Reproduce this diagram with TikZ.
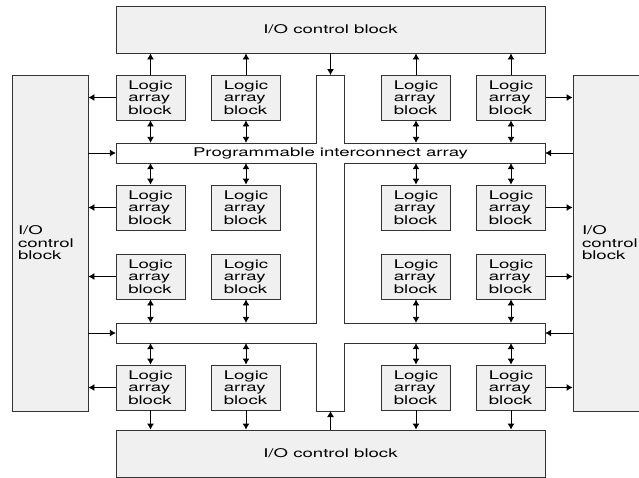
\documentclass[tikz,border=0pt]{standalone}
\usepackage{fontspec}
\setmainfont{TeX Gyre Heros}[FakeStretch=1.55]
\usetikzlibrary{arrows.meta}

\tikzset{
	blk/.style={draw=black!80, fill=black!6, line width=0.9pt, inner sep=0pt,
		font=\fontsize{12}{12.5}\selectfont},
	lab/.style={blk, minimum width=69pt, minimum height=45pt, align=left},
	band/.style={inner sep=0pt, minimum width=429pt, minimum height=20pt,
		font=\fontsize{12}{12.5}\selectfont}
}

\begin{document}
\begin{tikzpicture}[x=1pt, y=-1pt]
		\useasboundingbox (0,0) rectangle (639,477);
		\clip (0,0) rectangle (639,477);
		% I/O control blocks
		\node [blk, minimum width=429pt, minimum height=47pt] (iotop) at (330.5,29.5) {I/O control block};
		\node [blk, minimum width=429pt, minimum height=47pt] (iobot) at (330.5,453.5) {I/O control block};
		\node [blk, minimum width=76pt, minimum height=336pt, text width=64pt, inner xsep=6pt, align=left] (iol) at (50,243) {I/O\\control\\block};
		\node [blk, minimum width=76pt, minimum height=336pt, text width=58pt, inner xsep=9pt, align=left] (ior) at (611,243) {I/O\\control\\block};
		% programmable interconnect array
		\draw [draw=black!80, fill=white, line width=0.9pt]
			(316.5,75) -- (344.5,75) -- (344.5,143) -- (545,143) -- (545,163) -- (344.5,163)
			-- (344.5,323) -- (545,323) -- (545,343) -- (344.5,343) -- (344.5,411) -- (316.5,411)
			-- (316.5,343) -- (116,343) -- (116,323) -- (316.5,323) -- (316.5,163) -- (116,163)
			-- (116,143) -- (316.5,143) -- cycle;
		\node [band] (pia) at (330.5,153) {Programmable interconnect array};
		\node [band] (pib) at (330.5,333) {};
		\coordinate (pvt) at (330.5,75);
		\coordinate (pvb) at (330.5,411);
		% logic array blocks
		\foreach \r/\y in {1/97.5, 2/207.5, 3/276.5, 4/387.5}
			\foreach \c/\x in {1/150.5, 2/246, 3/416, 4/511}
				\node [lab] (l\r\c) at (\x,\y) {Logic\\array\\block};
		\path[->, line width=0.9pt, >={Latex[length=6pt,width=7pt]}]
					(iotop) edge (pvt)
					(iobot) edge (pvb)
					(iol.east |- pia) edge (pia)
					(ior.west |- pia) edge (pia)
					(iol.east |- pib) edge (pib)
					(ior.west |- pib) edge (pib)
					(l11) edge (l11 -| iol.east)
					(l21) edge (l21 -| iol.east)
					(l31) edge (l31 -| iol.east)
					(l41) edge (l41 -| iol.east)
					(l14) edge (l14 -| ior.west)
					(l24) edge (l24 -| ior.west)
					(l34) edge (l34 -| ior.west)
					(l44) edge (l44 -| ior.west);
		\foreach \c in {1,...,4} {
			\path[->, line width=0.9pt, >={Latex[length=6pt,width=7pt]}]
					(l1\c) edge (l1\c |- iotop.south)
					(l1\c) edge[<->] (l1\c |- pia.north)
					(l2\c) edge[<->] (l2\c |- pia.south)
					(l3\c) edge[<->] (l3\c |- pib.north)
					(l4\c) edge[<->] (l4\c |- pib.south)
					(l4\c) edge (l4\c |- iobot.north);
		}
	\end{tikzpicture}
\end{document}
